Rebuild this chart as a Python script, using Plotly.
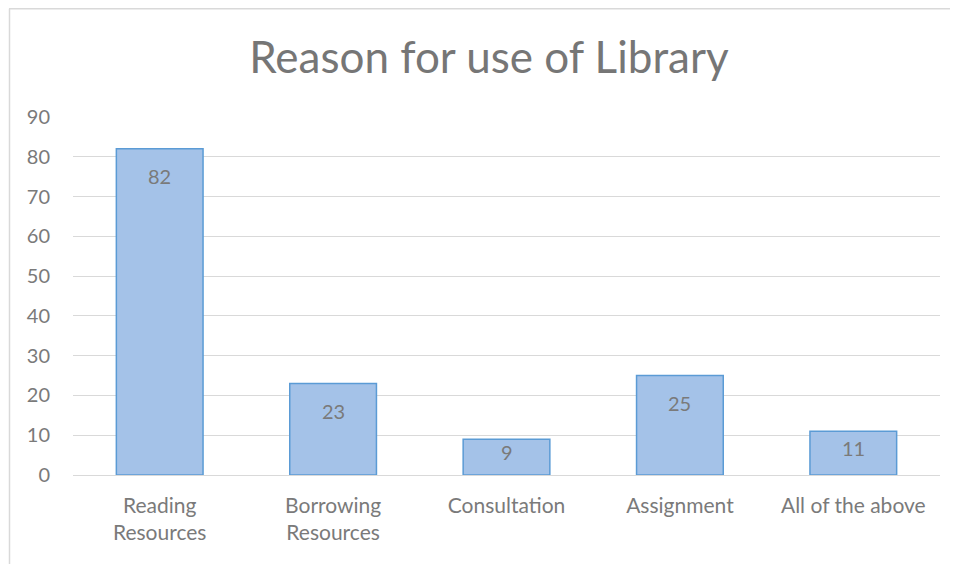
import plotly.graph_objects as go

categories = ["Reading<br>Resources", "Borrowing<br>Resources", "Consultation", "Assignment", "All of the above"]
values = [82, 23, 9, 25, 11]
y_ticks = [0, 10, 20, 30, 40, 50, 60, 70, 80, 90]

OFF = 8  # page body offset
W, H = 958, 564
ml, mr, mt, mb = 73 - OFF, 958 - 940 + OFF, 117 - OFF, 564 - 475 + OFF
pw, ph = W - ml - mr, H - mt - mb
Y_MAX = 90
px_per_unit = ph / Y_MAX

def px_x(px):
    return (px - OFF - ml) / pw

def px_y(py):
    return (H - mb - (py - OFF)) / ph

font_family = "Lato, 'Open Sans', sans-serif"
txt_col = "#7a7a7a"

fig = go.Figure(go.Bar(
    x=categories,
    y=values,
    marker=dict(color="#a4c2e8", line=dict(color="#5b9bd5", width=1.5)),
    cliponaxis=False,
    hoverinfo="x+y",
))

for c, v in zip(categories, values):
    h_px = v * px_per_unit
    shift = min(27, h_px / 2 - 5.5)
    fig.add_annotation(x=c, y=v, text=str(v), showarrow=False, yanchor="middle",
                       yshift=-shift, font=dict(size=20, color=txt_col, family=font_family))

fig.update_layout(
    width=W, height=H,
    margin=dict(l=ml, r=mr, t=mt, b=mb),
    paper_bgcolor="white",
    plot_bgcolor="white",
    bargap=0.5,
    showlegend=False,
    title=dict(text="Reason for use of Library", x=0.502, xanchor="center",
               y=1 - 50 / H, yanchor="middle",
               font=dict(size=44, color="#767676", family=font_family)),
    font=dict(family=font_family, color=txt_col, size=20),
    xaxis=dict(showgrid=False, showline=False, ticks="", ticklabelstandoff=16,
               tickfont=dict(size=21, color=txt_col)),
    yaxis=dict(range=[0, Y_MAX], tickvals=y_ticks, showgrid=True, gridcolor="#d9d9d9", gridwidth=1,
               zeroline=True, zerolinecolor="#d9d9d9", zerolinewidth=1, showline=False,
               ticks="", ticklabelstandoff=22, tickfont=dict(size=20, color=txt_col)),
    shapes=[
        dict(type="line", xref="paper", yref="paper", x0=px_x(9), x1=px_x(1000), y0=px_y(8.7), y1=px_y(8.7),
             line=dict(color="#d9d9d9", width=1.5)),
        dict(type="line", xref="paper", yref="paper", x0=px_x(9.5), x1=px_x(9.5), y0=px_y(8.7), y1=px_y(620),
             line=dict(color="#d9d9d9", width=1.5)),
    ],
)

fig.write_html("out.html")
